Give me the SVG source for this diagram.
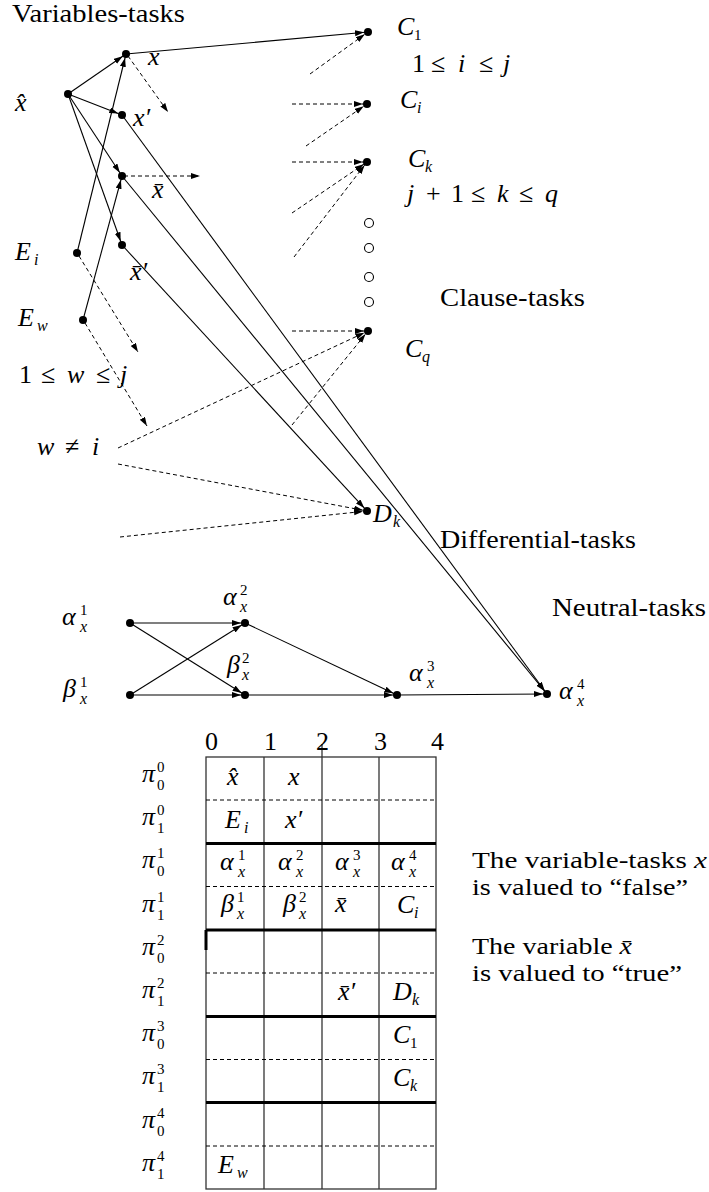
<svg xmlns="http://www.w3.org/2000/svg" width="709" height="1192" viewBox="0 0 709 1192">
<style>
text{font-family:"Liberation Serif","DejaVu Serif",serif;fill:#000}
.t{font-size:26px;font-style:normal}
.m{font-size:26px;font-style:italic}
.u{font-size:26px;font-style:normal}
.s{font-size:15px;font-style:normal}
.si{font-size:16px;font-style:italic}
.r{font-size:23px;font-style:normal}
.ln{stroke:#000;stroke-width:1.1;fill:none}
.ds{stroke:#000;stroke-width:1;fill:none;stroke-dasharray:4 3}
.dot{fill:#000}
.oc{fill:#fff;stroke:#000;stroke-width:1.1}
.tb{stroke:#333;stroke-width:1.3;fill:none}
.tk{stroke:#000;stroke-width:3;fill:none}
.td{stroke:#000;stroke-width:1;fill:none;stroke-dasharray:4 3}
</style>
<defs>
<marker id="a" markerUnits="userSpaceOnUse" markerWidth="14" markerHeight="7" refX="13" refY="3" orient="auto"><path d="M0,0 L9,3 L0,6 Z" fill="#000"/></marker>
<marker id="f" markerUnits="userSpaceOnUse" markerWidth="10" markerHeight="7" refX="9" refY="3" orient="auto"><path d="M0,0 L9,3 L0,6 Z" fill="#000"/></marker>
</defs>
<rect width="709" height="1192" fill="#fff"/>

<g id="connectors">
<line class="ln" x1="68" y1="94" x2="126" y2="54" marker-end="url(#a)"/>
<line class="ln" x1="68" y1="94" x2="122" y2="115" marker-end="url(#a)"/>
<line class="ln" x1="68" y1="94" x2="122" y2="176" marker-end="url(#a)"/>
<line class="ln" x1="68" y1="94" x2="122" y2="245" marker-end="url(#a)"/>
<line class="ln" x1="77" y1="253" x2="126" y2="54" marker-end="url(#a)"/>
<line class="ln" x1="83" y1="320" x2="122" y2="176" marker-end="url(#a)"/>
<line class="ln" x1="126" y1="54" x2="368" y2="32" marker-end="url(#a)"/>
<line class="ln" x1="122" y1="115" x2="547" y2="694" marker-end="url(#a)"/>
<line class="ln" x1="122" y1="176" x2="547" y2="694" marker-end="url(#a)"/>
<line class="ln" x1="122" y1="245" x2="367" y2="511" marker-end="url(#a)"/>
<line class="ln" x1="130" y1="623" x2="245" y2="623" marker-end="url(#a)"/>
<line class="ln" x1="130" y1="623" x2="245" y2="695" marker-end="url(#a)"/>
<line class="ln" x1="130" y1="695" x2="245" y2="623" marker-end="url(#a)"/>
<line class="ln" x1="130" y1="695" x2="245" y2="695" marker-end="url(#a)"/>
<line class="ln" x1="245" y1="623" x2="397" y2="695" marker-end="url(#a)"/>
<line class="ln" x1="245" y1="695" x2="397" y2="695" marker-end="url(#a)"/>
<line class="ln" x1="397" y1="695" x2="547" y2="694" marker-end="url(#a)"/>
<line class="ds" x1="128" y1="56" x2="168" y2="112" marker-end="url(#f)"/>
<line class="ds" x1="124" y1="176" x2="200" y2="176" marker-end="url(#f)"/>
<line class="ds" x1="79" y1="256" x2="138" y2="352" marker-end="url(#f)"/>
<line class="ds" x1="85" y1="323" x2="147" y2="426" marker-end="url(#f)"/>
<line class="ds" x1="310" y1="74" x2="368" y2="32" marker-end="url(#a)"/>
<line class="ds" x1="292" y1="104" x2="367" y2="104" marker-end="url(#a)"/>
<line class="ds" x1="306" y1="146" x2="367" y2="104" marker-end="url(#a)"/>
<line class="ds" x1="292" y1="162" x2="367" y2="162" marker-end="url(#a)"/>
<line class="ds" x1="292" y1="213" x2="367" y2="162" marker-end="url(#a)"/>
<line class="ds" x1="294" y1="257" x2="367" y2="162" marker-end="url(#a)"/>
<line class="ds" x1="292" y1="331" x2="368" y2="331" marker-end="url(#a)"/>
<line class="ds" x1="118" y1="448" x2="368" y2="331" marker-end="url(#a)"/>
<line class="ds" x1="292" y1="425" x2="368" y2="331" marker-end="url(#a)"/>
<line class="ds" x1="118" y1="464" x2="367" y2="511" marker-end="url(#a)"/>
<line class="ds" x1="120" y1="537" x2="367" y2="511" marker-end="url(#a)"/>
</g>

<text class="t" x="12" y="22" textLength="173" lengthAdjust="spacingAndGlyphs">Variables-tasks</text>
<text class="t" x="440" y="306" textLength="145" lengthAdjust="spacingAndGlyphs">Clause-tasks</text>
<text class="t" x="440" y="548" textLength="196" lengthAdjust="spacingAndGlyphs">Differential-tasks</text>
<text class="t" x="552" y="616" textLength="154" lengthAdjust="spacingAndGlyphs">Neutral-tasks</text>

<g id="n-xhat"><circle class="dot" cx="68" cy="94" r="4"/><text class="m" x="15" y="111">x&#x302;</text></g>
<g id="n-x"><circle class="dot" cx="126" cy="54" r="4"/><text class="m" x="148" y="65">x</text></g>
<g id="n-xp"><circle class="dot" cx="122" cy="115" r="4"/><text class="m" x="133" y="126">x′</text></g>
<g id="n-xb"><circle class="dot" cx="122" cy="176" r="4"/><text class="m" x="152" y="198">x&#x304;</text></g>
<g id="n-xbp"><circle class="dot" cx="122" cy="245" r="4"/><text class="m" x="130" y="280">x&#x304;′</text></g>
<g id="n-ei"><circle class="dot" cx="77" cy="253" r="4"/><text class="m" x="15" y="260">E<tspan class="si" x="34" y="265">i</tspan></text></g>
<g id="n-ew"><circle class="dot" cx="83" cy="320" r="4"/><text class="m" x="18" y="326">E<tspan class="si" x="37" y="331">w</tspan></text></g>
<g id="l-w1"><text class="u" x="19" y="383">1<tspan x="41">≤</tspan><tspan class="m" x="67">w</tspan><tspan x="96">≤</tspan><tspan class="m" x="120">j</tspan></text></g>
<g id="l-w2"><text class="m" x="37" y="455">w<tspan class="u" x="65">≠</tspan><tspan x="92">i</tspan></text></g>

<g id="n-c1"><circle class="dot" cx="368" cy="32" r="4"/><text class="m" x="397" y="35">C<tspan class="s" x="414" y="40">1</tspan></text></g>
<g id="l-i"><text class="u" x="412" y="72">1<tspan x="431">≤</tspan><tspan class="m" x="458">i</tspan><tspan x="479">≤</tspan><tspan class="m" x="503">j</tspan></text></g>
<g id="n-ci"><circle class="dot" cx="367" cy="104" r="4"/><text class="m" x="400" y="108">C<tspan class="si" x="417" y="113">i</tspan></text></g>
<g id="n-ck"><circle class="dot" cx="367" cy="162" r="4"/><text class="m" x="408" y="167">C<tspan class="si" x="425" y="172">k</tspan></text></g>
<g id="l-k"><text class="m" x="407" y="202">j<tspan class="u" x="426">+</tspan><tspan class="u" x="451">1</tspan><tspan class="u" x="471">≤</tspan><tspan x="497">k</tspan><tspan class="u" x="519">≤</tspan><tspan x="545">q</tspan></text></g>
<g id="dots">
<circle class="oc" cx="369" cy="223" r="4.5"/>
<circle class="oc" cx="369" cy="248" r="4.5"/>
<circle class="oc" cx="369" cy="277" r="4.5"/>
<circle class="oc" cx="369" cy="302" r="4.5"/>
</g>
<g id="n-cq"><circle class="dot" cx="368" cy="331" r="4"/><text class="m" x="405" y="357">C<tspan class="si" x="422" y="362">q</tspan></text></g>
<g id="n-dk"><circle class="dot" cx="367" cy="511" r="4"/><text class="m" x="373" y="522">D<tspan class="si" x="393" y="527">k</tspan></text></g>

<g id="n-a1"><circle class="dot" cx="130" cy="623" r="4"/><text class="m" x="62" y="625">α<tspan class="s" x="80" y="615">1</tspan><tspan class="si" x="80" y="632">x</tspan></text></g>
<g id="n-b1"><circle class="dot" cx="130" cy="695" r="4"/><text class="m" x="63" y="697">β<tspan class="s" x="80" y="687">1</tspan><tspan class="si" x="80" y="704">x</tspan></text></g>
<g id="n-a2"><circle class="dot" cx="245" cy="623" r="4"/><text class="m" x="223" y="605">α<tspan class="s" x="240" y="595">2</tspan><tspan class="si" x="240" y="612">x</tspan></text></g>
<g id="n-b2"><circle class="dot" cx="245" cy="695" r="4"/><text class="m" x="227" y="673">β<tspan class="s" x="242" y="663">2</tspan><tspan class="si" x="242" y="680">x</tspan></text></g>
<g id="n-a3"><circle class="dot" cx="397" cy="695" r="4"/><text class="m" x="409" y="681">α<tspan class="s" x="427" y="671">3</tspan><tspan class="si" x="427" y="688">x</tspan></text></g>
<g id="n-a4"><circle class="dot" cx="547" cy="694" r="4"/><text class="m" x="559" y="699">α<tspan class="s" x="577" y="689">4</tspan><tspan class="si" x="577" y="706">x</tspan></text></g>

<g id="table">
<g id="grid">
<rect class="tb" x="206" y="757" width="230" height="432"/>
<line class="tb" x1="264" y1="757" x2="264" y2="1189"/>
<line class="tb" x1="322" y1="744" x2="322" y2="1189"/>
<line class="tb" x1="379" y1="757" x2="379" y2="1189"/>
<line class="td" x1="206" y1="800" x2="436" y2="800"/>
<line class="tk" x1="206" y1="843.5" x2="436" y2="843.5"/>
<line class="td" x1="206" y1="886.5" x2="436" y2="886.5"/>
<line class="tk" x1="206" y1="930" x2="436" y2="930"/>
<line class="td" x1="206" y1="973" x2="436" y2="973"/>
<line class="tk" x1="206" y1="1016.5" x2="436" y2="1016.5"/>
<line class="td" x1="206" y1="1059.5" x2="436" y2="1059.5"/>
<line class="tk" x1="206" y1="1102.5" x2="436" y2="1102.5"/>
<line class="td" x1="206" y1="1146" x2="436" y2="1146"/>
<line class="tk" x1="206" y1="930" x2="206" y2="950"/>
</g>
<g id="cols">
<text class="u" x="205" y="750">0</text>
<text class="u" x="264" y="750">1</text>
<text class="u" x="316" y="750">2</text>
<text class="u" x="374" y="750">3</text>
<text class="u" x="431" y="750">4</text>
</g>
<g id="rows">
<text class="m" x="142" y="782">π<tspan class="s" x="157" y="772">0</tspan><tspan class="s" x="157" y="790">0</tspan></text>
<text class="m" x="142" y="825">π<tspan class="s" x="157" y="815">0</tspan><tspan class="s" x="157" y="833">1</tspan></text>
<text class="m" x="142" y="868">π<tspan class="s" x="157" y="858">1</tspan><tspan class="s" x="157" y="876">0</tspan></text>
<text class="m" x="142" y="912">π<tspan class="s" x="157" y="902">1</tspan><tspan class="s" x="157" y="920">1</tspan></text>
<text class="m" x="142" y="955">π<tspan class="s" x="157" y="945">2</tspan><tspan class="s" x="157" y="963">0</tspan></text>
<text class="m" x="142" y="998">π<tspan class="s" x="157" y="988">2</tspan><tspan class="s" x="157" y="1006">1</tspan></text>
<text class="m" x="142" y="1041">π<tspan class="s" x="157" y="1031">3</tspan><tspan class="s" x="157" y="1049">0</tspan></text>
<text class="m" x="142" y="1084">π<tspan class="s" x="157" y="1074">3</tspan><tspan class="s" x="157" y="1092">1</tspan></text>
<text class="m" x="142" y="1128">π<tspan class="s" x="157" y="1118">4</tspan><tspan class="s" x="157" y="1136">0</tspan></text>
<text class="m" x="142" y="1171">π<tspan class="s" x="157" y="1161">4</tspan><tspan class="s" x="157" y="1179">1</tspan></text>
</g>
<g id="cells">
<text class="m" x="227" y="785">x&#x302;</text>
<text class="m" x="288" y="785">x</text>
<text class="m" x="225" y="828">E<tspan class="si" x="244" y="833">i</tspan></text>
<text class="m" x="285" y="828">x′</text>
<text class="m" x="220" y="870">α<tspan class="s" x="238" y="860">1</tspan><tspan class="si" x="238" y="877">x</tspan></text>
<text class="m" x="278" y="870">α<tspan class="s" x="296" y="860">2</tspan><tspan class="si" x="296" y="877">x</tspan></text>
<text class="m" x="335" y="870">α<tspan class="s" x="353" y="860">3</tspan><tspan class="si" x="353" y="877">x</tspan></text>
<text class="m" x="391" y="870">α<tspan class="s" x="409" y="860">4</tspan><tspan class="si" x="409" y="877">x</tspan></text>
<text class="m" x="221" y="912">β<tspan class="s" x="237" y="902">1</tspan><tspan class="si" x="237" y="919">x</tspan></text>
<text class="m" x="283" y="912">β<tspan class="s" x="299" y="902">2</tspan><tspan class="si" x="299" y="919">x</tspan></text>
<text class="m" x="335" y="912">x&#x304;</text>
<text class="m" x="397" y="913">C<tspan class="si" x="414" y="918">i</tspan></text>
<text class="m" x="338" y="1000">x&#x304;′</text>
<text class="m" x="393" y="1000">D<tspan class="si" x="412" y="1005">k</tspan></text>
<text class="m" x="393" y="1043">C<tspan class="s" x="410" y="1048">1</tspan></text>
<text class="m" x="393" y="1086">C<tspan class="si" x="410" y="1091">k</tspan></text>
<text class="m" x="218" y="1173">E<tspan class="si" x="237" y="1178">w</tspan></text>
</g>
<g id="notes">
<text class="r" x="472" y="868" textLength="235" lengthAdjust="spacingAndGlyphs">The variable-tasks <tspan font-style="italic">x</tspan></text>
<text class="r" x="472" y="895" textLength="216" lengthAdjust="spacingAndGlyphs">is valued to “false”</text>
<text class="r" x="472" y="954" textLength="160" lengthAdjust="spacingAndGlyphs">The variable <tspan font-style="italic">x&#x304;</tspan></text>
<text class="r" x="472" y="981" textLength="210" lengthAdjust="spacingAndGlyphs">is valued to “true”</text>
</g>
</g>
</svg>
